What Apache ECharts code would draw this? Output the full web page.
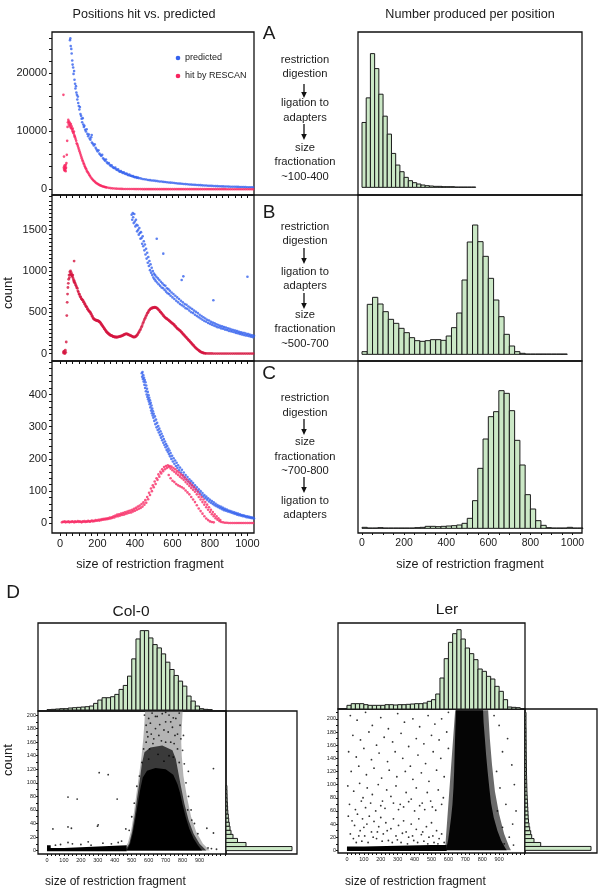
<!DOCTYPE html>
<html><head><meta charset="utf-8">
<script src="https://cdn.jsdelivr.net/npm/echarts@6/dist/echarts.min.js"></script>
<style>html,body{margin:0;padding:0;background:#fff}#c{width:600px;height:894px}</style>
</head><body><div id="c"></div>
<script>
// ---------- DATA ----------
var predA = [[53,25600],[55,25900],[57,24600],[60,24100],[62,23300],[65,22100],[67,21400],[70,20900],[72,19800],[75,20300],[77,18800],[80,18100],[82,17300],[85,17700],[87,16600],[90,16200],[92,15400],[95,15900],[97,14800],[100,14300],[103,13700],[106,14100],[109,12900],[112,12600],[115,12100],[118,11500],[121,12200],[124,11100],[127,10700],[130,10900],[134,10200],[138,9900],[142,10300],[146,9500],[150,9100],[154,9400],[158,8700],[162,8500],[166,8900],[169,9300],[170,8000],[175,7800],[180,7500],[185,7700],[190,7100],[195,6800],[200,6500],[205,6700],[210,6100],[215,5900],[220,5700],[225,5900],[230,5300],[235,5100],[240,4900],[245,5100],[250,4600],[255,4400],[260,4500],[265,4200],[270,4000],[275,4100],[280,3800],[285,3700],[290,3600],[295,3700],[300,3400],[305,3300],[310,3400],[315,3100],[320,3000],[325,3100],[330,2900],[335,2800],[340,2900],[345,2700],[350,2600],[355,2700],[360,2500],[365,2400],[370,2500],[375,2300],[380,2300],[385,2200],[390,2250],[395,2100],[400,2050],[405,2100],[410,1950],[415,2000],[420,1900],[430,1850],[440,1760],[450,1700],[460,1650],[470,1580],[480,1550],[490,1500],[500,1470],[510,1420],[520,1390],[530,1330],[540,1320],[550,1260],[560,1240],[570,1200],[580,1160],[590,1120],[600,1100],[610,1050],[620,1020],[630,980],[640,960],[650,920],[660,900],[670,870],[680,850],[690,810],[700,790],[710,770],[720,740],[730,720],[740,700],[750,690],[760,660],[770,640],[780,630],[790,600],[800,580],[810,570],[820,550],[830,530],[840,520],[850,500],[860,490],[870,480],[880,460],[890,450],[900,440],[910,430],[920,420],[930,410],[940,400],[950,390],[960,380],[970,370],[980,360],[990,350],[1000,340],[1010,330],[1020,320],[1030,310]];
var hitA = [[18,16200],[20,3700],[21,5600],[22,3400],[23,3900],[24,3200],[25,4100],[26,3600],[27,3300],[28,3800],[29,3500],[30,3100],[31,4200],[32,3700],[34,4500],[36,5900],[38,8300],[40,10700],[42,11500],[44,11900],[46,11200],[48,11600],[50,10900],[52,11400],[54,11000],[56,10600],[58,11200],[60,10500],[62,10800],[64,10300],[66,10000],[68,10400],[70,9800],[72,9600],[74,9900],[76,9300],[78,9100],[80,8900],[83,8600],[86,8300],[89,7900],[92,7700],[95,7400],[98,7100],[101,6800],[104,6500],[107,6200],[110,5900],[113,5600],[116,5300],[119,5000],[122,4800],[125,4500],[128,4300],[131,4000],[134,3800],[137,3600],[140,3400],[144,3100],[148,2900],[152,2700],[156,2450],[160,2250],[165,2000],[170,1800],[175,1600],[180,1450],[185,1300],[190,1150],[195,1030],[200,920],[205,820],[210,730],[215,650],[220,580],[225,510],[230,460],[235,410],[240,360],[245,320],[250,290],[260,230],[270,180],[280,140],[290,110],[300,90],[310,75],[320,60],[330,50],[340,40],[350,35],[360,30],[370,25],[380,20],[390,18],[400,15],[410,12],[420,10],[430,10],[440,8],[450,8],[460,7],[470,6],[480,6],[490,5],[500,5],[510,5],[520,4],[530,4],[540,4],[550,4],[560,3],[570,3],[580,3],[590,3],[600,3],[610,3],[620,2],[630,2],[640,2],[650,2],[660,2],[670,2],[680,2],[690,2],[700,2],[710,2],[720,1],[730,1],[740,1],[750,1],[760,1],[770,1],[780,1],[790,1],[800,1],[810,1],[820,1],[830,1],[840,1],[850,1],[860,1],[870,1],[880,1],[890,0],[900,0],[910,0],[920,0],[930,0],[940,0],[950,0],[960,0],[970,0],[980,0],[990,0],[1000,0],[1010,0],[1020,0],[1030,0]];
var predB = [[382,1680],[385,1620],[388,1700],[390,1650],[393,1580],[396,1690],[399,1600],[402,1540],[405,1620],[408,1560],[411,1480],[414,1550],[417,1500],[420,1440],[423,1520],[426,1460],[429,1390],[432,1470],[435,1400],[438,1330],[441,1420],[444,1300],[447,1360],[450,1250],[453,1320],[456,1200],[459,1270],[462,1150],[465,1220],[468,1100],[471,1170],[474,1060],[477,1120],[480,1010],[483,1080],[486,980],[489,1040],[492,950],[495,1000],[498,920],[501,970],[504,900],[507,950],[510,880],[514,930],[516,1390],[518,860],[522,910],[526,840],[530,890],[534,820],[538,870],[542,800],[546,850],[550,790],[551,1210],[554,830],[558,770],[562,820],[566,750],[570,790],[574,730],[578,780],[582,720],[586,760],[590,700],[595,740],[600,680],[605,720],[610,660],[615,700],[620,640],[625,680],[630,620],[635,660],[640,600],[645,640],[649,890],[650,585],[655,620],[658,935],[660,570],[665,600],[670,550],[675,590],[680,540],[685,570],[690,520],[695,555],[700,500],[705,540],[710,490],[715,520],[720,470],[725,505],[730,455],[735,490],[740,440],[745,470],[750,425],[755,455],[760,410],[765,440],[770,395],[775,425],[780,385],[785,410],[790,370],[795,400],[800,360],[805,385],[810,350],[815,375],[818,645],[820,340],[825,365],[830,330],[835,355],[840,320],[845,345],[850,315],[855,335],[860,305],[865,330],[870,300],[875,320],[880,290],[885,315],[890,285],[895,305],[900,275],[905,300],[910,270],[915,290],[920,265],[925,285],[930,258],[935,278],[940,250],[945,272],[950,245],[955,265],[960,238],[965,258],[970,232],[975,252],[980,225],[985,248],[990,220],[995,240],[1000,215],[1000,930],[1005,235],[1010,210],[1015,228],[1020,205],[1025,222],[1030,198],[1035,215]];
var hitB = [[18,20],[20,5],[22,30],[24,10],[26,0],[28,40],[30,15],[33,140],[36,460],[38,620],[40,720],[42,800],[44,850],[46,900],[48,950],[50,920],[52,990],[54,960],[56,1000],[58,950],[60,980],[62,960],[64,940],[66,930],[68,950],[70,910],[72,890],[74,870],[75,1120],[76,880],[78,860],[80,850],[83,830],[86,820],[89,800],[92,790],[95,760],[98,745],[101,720],[104,715],[107,690],[110,685],[113,665],[116,660],[119,650],[122,645],[125,625],[128,620],[131,600],[134,595],[137,575],[140,570],[143,560],[146,540],[149,535],[152,520],[155,515],[158,505],[161,500],[164,485],[167,475],[170,455],[173,450],[176,430],[179,425],[182,415],[185,412],[188,405],[191,408],[194,400],[197,402],[200,395],[203,398],[206,390],[209,388],[212,380],[215,375],[218,362],[221,355],[224,342],[227,335],[230,322],[233,315],[236,302],[239,295],[242,282],[245,275],[248,262],[251,258],[254,248],[257,246],[260,236],[263,234],[266,225],[269,224],[272,218],[275,220],[278,212],[281,212],[284,205],[287,205],[290,200],[293,203],[296,198],[299,201],[302,196],[306,202],[310,200],[314,206],[318,205],[322,210],[326,210],[330,216],[334,218],[338,225],[342,228],[346,235],[350,236],[354,240],[358,236],[362,234],[366,226],[370,226],[374,218],[378,218],[382,210],[386,208],[390,200],[394,202],[398,198],[402,205],[406,210],[410,222],[414,232],[418,250],[422,262],[426,282],[430,296],[434,320],[438,338],[442,365],[446,385],[450,410],[454,428],[458,450],[462,468],[466,488],[470,500],[474,520],[478,528],[482,542],[486,545],[490,552],[494,552],[498,558],[502,556],[506,562],[510,556],[514,556],[518,546],[522,542],[526,528],[530,522],[534,506],[538,500],[542,486],[546,478],[550,462],[554,455],[558,442],[562,436],[566,425],[570,422],[574,412],[578,408],[582,398],[586,392],[590,382],[594,378],[598,366],[602,362],[606,352],[610,346],[614,332],[618,325],[622,312],[626,305],[630,295],[634,290],[638,280],[642,275],[646,262],[650,255],[654,242],[658,235],[662,222],[666,215],[670,202],[674,195],[678,182],[682,175],[686,162],[690,155],[694,142],[698,135],[702,122],[706,115],[710,102],[714,95],[718,82],[722,75],[726,64],[730,58],[734,48],[738,42],[742,34],[746,28],[750,21],[754,17],[758,12],[762,10],[766,6],[770,5],[775,3],[780,2],[790,1],[800,1],[810,1],[820,0],[830,0],[840,0],[850,0],[860,0],[870,0],[880,0],[890,0],[900,0],[910,0],[920,0],[930,0],[940,0],[950,0],[960,0],[970,0],[980,0],[990,0],[1000,0],[1010,0],[1020,0],[1030,0]];
var predC = [[436,466],[438,455],[440,470],[442,448],[444,460],[446,440],[448,452],[450,430],[452,445],[454,420],[456,438],[458,410],[460,428],[462,400],[464,418],[466,392],[468,408],[470,385],[472,398],[474,378],[476,390],[478,370],[480,382],[482,360],[484,374],[486,350],[488,366],[490,342],[492,356],[494,335],[496,348],[498,328],[500,340],[503,318],[506,332],[509,308],[512,322],[515,298],[518,312],[521,290],[524,302],[527,282],[530,294],[533,274],[536,286],[539,266],[542,278],[545,258],[548,270],[551,250],[554,262],[557,243],[560,254],[563,236],[566,246],[569,228],[572,240],[575,222],[578,232],[581,215],[584,226],[587,208],[590,218],[594,200],[598,210],[602,192],[606,202],[610,185],[614,195],[618,178],[622,188],[626,172],[630,180],[635,165],[640,173],[645,158],[650,166],[655,150],[660,158],[665,143],[670,150],[675,136],[680,144],[685,130],[690,137],[695,124],[700,131],[705,118],[710,125],[715,112],[720,118],[725,106],[730,112],[735,100],[740,106],[745,94],[750,100],[755,88],[760,94],[765,83],[770,88],[775,78],[780,83],[785,73],[790,78],[795,68],[800,73],[805,64],[810,69],[815,60],[820,65],[825,56],[830,61],[835,53],[840,57],[845,50],[850,54],[855,47],[860,51],[865,44],[870,48],[875,41],[880,45],[885,39],[890,43],[895,37],[900,40],[905,35],[910,38],[915,33],[920,36],[925,31],[930,34],[935,29],[940,32],[945,27],[950,30],[955,25],[960,28],[965,24],[970,26],[975,22],[980,25],[985,21],[990,23],[995,19],[1000,22],[1005,18],[1010,20],[1015,17],[1020,19],[1025,16],[1030,18],[1035,15]];
var hitC = [[10,3],[15,5],[20,4],[25,6],[30,3],[35,5],[40,4],[45,6],[50,3],[55,5],[60,4],[65,6],[70,5],[75,3],[80,6],[85,4],[90,5],[95,7],[100,4],[105,6],[110,5],[115,3],[120,6],[125,5],[130,7],[135,4],[140,6],[145,5],[150,8],[155,6],[160,5],[165,7],[170,9],[175,6],[180,8],[185,7],[190,10],[195,8],[200,9],[205,11],[210,8],[215,12],[220,10],[225,13],[230,11],[235,14],[240,12],[245,15],[250,13],[255,16],[260,14],[265,18],[270,15],[275,19],[280,17],[285,22],[290,18],[295,24],[300,21],[305,27],[310,22],[315,28],[320,24],[325,30],[330,26],[335,32],[340,27],[345,34],[350,29],[355,36],[360,31],[365,38],[370,33],[375,40],[380,34],[385,42],[390,37],[395,45],[400,39],[405,48],[410,42],[415,52],[420,45],[425,55],[430,48],[435,60],[440,52],[445,65],[450,58],[455,72],[460,64],[465,82],[470,75],[475,95],[480,88],[485,108],[490,100],[495,118],[500,112],[505,130],[510,122],[515,140],[520,135],[525,152],[530,145],[535,160],[540,155],[545,168],[550,162],[555,175],[560,168],[565,178],[570,172],[575,180],[580,175],[585,178],[590,170],[595,176],[600,165],[605,172],[610,160],[615,168],[620,155],[625,162],[630,150],[635,158],[640,145],[645,152],[650,140],[655,148],[660,135],[665,142],[670,128],[675,136],[680,122],[685,130],[690,116],[695,124],[700,110],[705,118],[710,104],[715,112],[720,98],[725,105],[730,90],[735,98],[740,82],[745,90],[750,74],[755,82],[760,66],[765,74],[770,58],[775,66],[780,50],[785,58],[790,42],[795,50],[800,35],[805,42],[810,28],[815,35],[820,22],[825,28],[830,16],[835,22],[840,11],[845,16],[850,7],[855,10],[860,4],[870,3],[880,2],[890,2],[900,1],[910,1],[920,1],[930,1],[940,1],[950,1],[960,1],[970,1],[980,1],[990,1],[1000,1],[1010,1],[1020,1],[1030,1],
 [580,150],[590,140],[600,132],[610,128],[620,122],[630,118],[640,115],[650,112],[660,108],[670,102],[680,96],[690,90],[700,82],[710,74],[720,66],[730,56],[740,46],[750,38],[760,30],[770,22],[780,15],[790,10],[800,6],[810,4],[820,3]];

// histograms (relative heights), bins start at 0
var histA = [195,269,402,357,280,214,160,102,67,47,30,20,14,10,7,5,4,3,3,2,2,2,1,1,1,1,1];
var histB = [8,150,171,151,128,105,93,78,65,50,41,39,41,44,44,42,55,80,124,223,337,388,338,294,228,163,113,60,25,8,3,1,1,1,1,1,1,1,1];
var histC = [3,1,1,2,1,1,1,1,1,1,2,3,6,6,5,6,7,8,10,15,30,83,180,268,335,350,413,405,353,264,190,101,58,23,9,2,1,1,1,3,1,1];
var topCol = [1,2,3,4,4,6,7,8,9,10,12,20,30,37,37,40,47,62,74,102,154,214,239,239,217,197,187,169,144,122,104,87,72,42,27,12,4,2,1];
var topLer = [11,16,16,16,13,11,11,11,11,13,13,12,13,13,14,15,16,16,18,23,28,45,93,151,200,226,238,210,183,166,148,120,113,98,90,68,53,28,6,5,4];
var sideCol = [66,20,11.5,7,5,4,3.3,2.7,2.3,1.8,1.6,1.4,1.2,1.1,1,0.9];
var sideLer = [66,15.7,9,6.7,5.7,4.7,4,3.5,3.2,3,2.8,2.6,2.4,2.2,2,1.9,1.8,1.7,1.6,1.5,1.5,1.4,1.4,1.3,1.3,1.2,1.2,1.2,1.1,1.1,1.1,1,1,1,1];

// dense point clouds in D (outlines of the solid / speckled zones) and sparse points
var colOuter = [[452,0],[478,12],[498,32],[514,58],[530,88],[545,115],[558,140],[568,165],[575,190],[578,205],[800,205],[795,180],[792,160],[795,140],[805,110],[825,80],[850,50],[880,28],[920,10],[960,0]];
var colInner = [[460,0],[485,10],[502,28],[518,52],[532,78],[548,105],[560,128],[575,145],[610,152],[680,155],[740,148],[760,135],[775,115],[790,95],[810,70],[835,45],[865,25],[900,10],[940,0]];
var colCore = [[470,0],[490,10],[505,25],[520,45],[535,68],[550,90],[565,108],[590,118],[640,122],[700,120],[745,112],[770,98],[785,85],[800,68],[818,50],[840,32],[865,18],[890,8],[915,0]];
var colBand = [[0,-1],[0,8],[22,8],[22,4],[100,4],[200,5],[300,6],[400,7],[470,8],[470,-1]];
var colDots = [[35,32],[124,79],[178,76],[308,115],[361,112],[414,76],[124,35],[144,33],[298,36],[302,38],[465,32],[830,60],[834,117],[805,170],[982,121],[943,33],[982,26],[854,45],[124,12],[243,13],[50,8],[80,9],[150,10],[200,9],[260,8],[330,11],[380,10],[420,12],[440,14],[950,4],[970,3],[1000,2],
 [575,200],[600,195],[620,203],[650,198],[680,202],[700,190],[720,200],[760,195],[780,203],[590,175],[640,180],[690,178],[740,182],[770,172],[585,160],[630,165],[700,160],[750,158],[790,165],[570,150],[800,148],[560,130],[810,128],[545,110],[820,100],[530,95],[835,80],[515,70],[850,60],[500,50],[870,40],[485,30],[890,25],
 [610,188],[665,186],[730,190],[595,168],[615,172],[660,170],[715,175],[755,170],[605,150],[655,142],[720,140],[770,150],[600,135],[690,132],[745,138],[780,130],[640,198],[700,204],[745,196],[585,185],[625,158],[675,162],[730,160],[785,185]];
var lerFringe = [[580,0],[640,213],[835,213],[845,170],[858,130],[875,90],[900,55],[930,25],[960,5],[970,0]];
var lerCore = [[585,0],[598,15],[606,30],[616,50],[624,70],[630,95],[634,120],[637,150],[640,175],[643,200],[645,213],[805,213],[808,195],[815,172],[823,145],[832,120],[842,95],[852,72],[868,50],[890,30],[912,15],[935,4],[945,0]];
var lerBand = [[0,-1],[0,6],[100,6],[300,7],[500,8],[590,8],[590,-1]];
var lerDots = [[20,205],[60,198],[110,210],[150,190],[200,202],[245,185],[300,208],[340,195],[390,200],[430,188],[480,205],[520,192],[560,200],[600,210],
[35,175],[80,168],[130,180],[175,160],[220,172],[270,165],[320,178],[365,158],[410,170],[455,162],[500,175],[545,168],[590,180],
[10,150],[55,142],[100,155],[145,138],[190,148],[240,135],[285,150],[330,140],[375,128],[420,145],[465,132],[510,150],[555,140],[600,155],
[25,120],[70,128],[115,115],[160,125],[205,110],[250,122],[295,112],[345,120],[390,108],[440,118],[485,105],[530,122],[575,112],
[5,98],[40,90],[75,102],[95,80],[120,95],[150,85],[185,100],[210,75],[235,92],[260,82],[290,98],[315,70],[350,88],[380,78],[410,95],[445,72],[475,88],[505,66],[540,92],[570,80],
[15,70],[50,62],[85,75],[110,65],[140,72],[170,60],[200,68],[225,64],[275,72],[305,62],[335,66],[365,74],[400,60],[430,68],[460,62],[495,75],[525,61],[560,70],
[8,52],[30,45],[45,38],[62,55],[78,30],[92,48],[105,22],[118,40],[132,52],[145,28],[160,44],[175,18],[188,36],[200,50],[215,25],[230,42],[245,15],[260,33],[275,48],[290,22],[305,38],[320,12],[335,45],[350,28],[365,20],[380,40],[395,15],[410,32],[425,48],[440,24],[455,14],[470,36],[485,20],[500,42],[515,12],[530,30],[545,18],[560,25],[575,12],
[20,25],[38,18],[55,12],[70,22],[88,14],[100,35],[125,12],[155,20],[180,28],[208,14],[238,30],[268,12],[298,16],[328,26],[358,10],[388,22],[418,12],[448,28],[478,10],[508,22],[538,10],
[870,205],[900,190],[920,150],[885,120],[950,170],[975,130],[905,95],[940,70],[980,40],[960,20],[920,35],[990,100],[1000,60],[890,60],[930,10],[985,8]];

// tick label values
var xLabelsLeft = [0,200,400,600,800,1000];
var yLabelsA = [0,10000,20000];
var yLabelsB = [0,500,1000,1500];
var yLabelsC = [0,100,200,300,400];
var xLabelsD = [0,100,200,300,400,500,600,700,800,900];
var yLabelsD = [0,20,40,60,80,100,120,140,160,180,200];

// ---------- helpers ----------
var FONT = 'Liberation Sans, Arial, sans-serif';
var BLUE = '#3462ee', RED_A = '#f8245f', RED_B = '#d4143f', RED_C = '#f72d66';
var GREEN = '#cbe8c6';
function seq(a, b, s) { var r = []; for (var i = 0; a + i * s <= b + 1e-6; i++) r.push(+(a + i * s).toFixed(4)); return r; }
function bins(vals, w) { return vals.map(function (v, i) { return [i * w, (i + 1) * w, v]; }); }
function gridBox(l, t, w, h) { return { left: l, top: t, width: w, height: h, show: true, borderColor: '#111', borderWidth: 1.3, backgroundColor: 'transparent', containLabel: false, outerBoundsMode: 'none' }; }
function axis(gi, min, max, o) {
  o = o || {};
  return {
    type: 'value', gridIndex: gi, min: min, max: max, splitLine: { show: false },
    axisLine: { show: false, onZero: false },
    axisTick: o.ticks ? { show: true, customValues: o.ticks, length: o.tl || 3, lineStyle: { color: '#111', width: 1 } } : { show: false },
    axisLabel: o.labels ? { show: true, customValues: o.labels, fontSize: o.fs || 11, fontFamily: FONT, color: '#1a1a1a', margin: o.margin || 5,
      formatter: function (v) { return String(v); } } : { show: false }
  };
}
function histItem(p, api) {
  var a = api.coord([api.value(0), api.value(2)]), b = api.coord([api.value(1), 0]);
  return { type: 'rect', shape: { x: a[0], y: a[1], width: b[0] - a[0], height: b[1] - a[1] }, style: { fill: GREEN, stroke: '#1b1b1b', lineWidth: 1 } };
}
function sideItem(p, api) {
  var a = api.coord([0, api.value(1)]), b = api.coord([api.value(2), api.value(0)]);
  return { type: 'rect', shape: { x: a[0], y: a[1], width: b[0] - a[0], height: b[1] - a[1] }, style: { fill: GREEN, stroke: '#1b1b1b', lineWidth: 1 } };
}
function histSeries(i, vals, w) { return { type: 'custom', xAxisIndex: i, yAxisIndex: i, data: bins(vals, w), encode: { x: [0, 1], y: 2 }, renderItem: histItem, silent: true, animation: false }; }
function sideSeries(i, vals, w) { return { type: 'custom', xAxisIndex: i, yAxisIndex: i, data: bins(vals, w), encode: { y: [0, 1], x: 2 }, renderItem: sideItem, silent: true, animation: false }; }
function polySeries(i, pts, color) {
  return { type: 'custom', xAxisIndex: i, yAxisIndex: i, data: [pts[0]], silent: true, animation: false,
    renderItem: function (p, api) { return { type: 'polygon', shape: { points: pts.map(function (q) { return api.coord(q); }) }, style: { fill: color } }; } };
}
function scat(i, data, color, size) { return { type: 'scatter', xAxisIndex: i, yAxisIndex: i, data: data, symbolSize: size, itemStyle: { color: color }, silent: true, animation: false }; }
function txt(x, y, s, size, align, extra) {
  var e = { type: 'text', x: x, y: y, style: { text: s, fontSize: size, fontFamily: FONT, fill: '#1a1a1a', align: align || 'center', verticalAlign: 'middle' } };
  if (extra) for (var k in extra) e[k] = extra[k];
  return e;
}
function arrow(x, y1, y2) {
  return [{ type: 'line', shape: { x1: x, y1: y1, x2: x, y2: y2 - 4 }, style: { stroke: '#111', lineWidth: 1.3 } },
          { type: 'polygon', shape: { points: [[x - 2.8, y2 - 6], [x + 2.8, y2 - 6], [x, y2]] }, style: { fill: '#111' } }];
}

var grids = [
  gridBox(52, 32, 202, 163), gridBox(52, 195, 202, 166), gridBox(52, 361, 202, 172),
  gridBox(358, 32, 224, 163), gridBox(358, 195, 224, 166), gridBox(358, 361, 224, 172),
  gridBox(38, 623, 188, 88), gridBox(38, 711, 188, 143), gridBox(226, 711, 71, 143),
  gridBox(338, 623, 187, 86), gridBox(338, 709, 187, 144), gridBox(525, 709, 72, 144)
];
var leftXT = seq(0, 1000, 200 / 6);
var xAxes = [
  axis(0, -43, 1035, { ticks: leftXT }), axis(1, -43, 1035, { ticks: leftXT }), axis(2, -43, 1035, { ticks: leftXT, labels: xLabelsLeft }),
  axis(3, -19, 1045), axis(4, -19, 1045), axis(5, -19, 1045, { ticks: seq(0, 1000, 50), labels: xLabelsLeft, fs: 10.5, tl: 2 }),
  axis(6, -53, 1056), axis(7, -53, 1056, { ticks: seq(0, 1050, 25), labels: xLabelsD, fs: 5.5, tl: 2, margin: 3 }), axis(8, 0, 71),
  axis(9, -53, 1053), axis(10, -53, 1053, { ticks: seq(0, 1050, 25), labels: xLabelsD, fs: 5.5, tl: 2, margin: 3 }), axis(11, 0, 72)
];
var yAxes = [
  axis(0, -1000, 27000, { ticks: seq(0, 26000, 2000), labels: yLabelsA }),
  axis(1, -90, 1920, { ticks: seq(0, 1900, 50), labels: yLabelsB }),
  axis(2, -30, 504, { ticks: seq(0, 500, 20), labels: yLabelsC }),
  axis(3, -23, 467), axis(4, -20, 478), axis(5, -14, 502),
  axis(6, -3, 262), axis(7, -5, 206, { ticks: seq(0, 200, 10), labels: yLabelsD, fs: 5.5, tl: 2, margin: 2 }), axis(8, -5, 206),
  axis(9, 0, 258), axis(10, -4, 215, { ticks: seq(0, 210, 10), labels: yLabelsD, fs: 5.5, tl: 2, margin: 2 }), axis(11, -4, 215)
];

var series = [
  scat(0, predA, BLUE, 2.6), scat(0, hitA, RED_A, 2.6),
  scat(1, predB, BLUE, 2.6), scat(1, hitB, RED_B, 2.8),
  scat(2, predC, BLUE, 2.6), scat(2, hitC, RED_C, 2.6),
  histSeries(3, histA, 20), histSeries(4, histB, 25), histSeries(5, histC, 25),
  histSeries(6, topCol, 25), histSeries(9, topLer, 25),
  sideSeries(8, sideCol, 6), sideSeries(11, sideLer, 6),
  polySeries(7, colOuter, '#b4b4b4'), polySeries(7, colInner, '#3a3a3a'), polySeries(7, colCore, '#000'), polySeries(7, colBand, '#000'),
  scat(7, colDots, '#000', 1.8),
  polySeries(10, lerFringe, '#6a6a6a'), polySeries(10, lerCore, '#050505'), polySeries(10, lerBand, '#000'),
  scat(10, lerDots, '#000', 1.8)
];

var g = [
  txt(144, 15, 'Positions hit vs. predicted', 12.6),
  txt(470, 15, 'Number produced per position', 12.6),
  txt(269, 34, 'A', 19), txt(269, 213, 'B', 19), txt(269, 374, 'C', 19), txt(13, 593, 'D', 19),
  { type: 'circle', shape: { cx: 178, cy: 58, r: 2.3 }, style: { fill: BLUE } },
  { type: 'circle', shape: { cx: 178, cy: 76, r: 2.3 }, style: { fill: RED_A } },
  txt(185, 58, 'predicted', 9, 'left'), txt(185, 76, 'hit by RESCAN', 9, 'left'),
  txt(8, 293, 'count', 13, 'center', { rotation: Math.PI / 2 }),
  txt(8, 760, 'count', 13, 'center', { rotation: Math.PI / 2 }),
  txt(150, 565, 'size of restriction fragment', 12.6), txt(470, 565, 'size of restriction fragment', 12.6),
  txt(45, 882, 'size of restriction fragment', 12, 'left'), txt(345, 882, 'size of restriction fragment', 12, 'left'),
  txt(131, 612, 'Col-0', 15.5), txt(447, 610, 'Ler', 15.5),
  { type: 'line', shape: { x1: 254, y1: 195, x2: 358, y2: 195 }, style: { stroke: '#111', lineWidth: 1.3 } },
  { type: 'line', shape: { x1: 254, y1: 361, x2: 358, y2: 361 }, style: { stroke: '#111', lineWidth: 1.3 } }
];
var mid = [
  [[59.5, 'restriction'], [73.5, 'digestion'], [102.8, 'ligation to'], [118, 'adapters'], [147.7, 'size'], [162, 'fractionation'], [177, '~100-400']],
  [[227, 'restriction'], [241, 'digestion'], [271.7, 'ligation to'], [286, 'adapters'], [315, 'size'], [329, 'fractionation'], [344, '~500-700']],
  [[397.7, 'restriction'], [412.6, 'digestion'], [442, 'size'], [456.5, 'fractionation'], [471, '~700-800'], [500.7, 'ligation to'], [515, 'adapters']]
];
mid.forEach(function (blk) { blk.forEach(function (r) { g.push(txt(305, r[0], r[1], 11.2)); }); });
[[84, 98], [124, 140], [248, 264], [293, 309], [419, 435], [477, 493]].forEach(function (a) { g = g.concat(arrow(304, a[0], a[1])); });

var chart = echarts.init(document.getElementById('c'), null, { renderer: 'canvas' });
chart.setOption({
  animation: false, backgroundColor: '#fff',
  textStyle: { fontFamily: FONT },
  grid: grids, xAxis: xAxes, yAxis: yAxes, series: series, graphic: { elements: g }
});
</script></body></html>
